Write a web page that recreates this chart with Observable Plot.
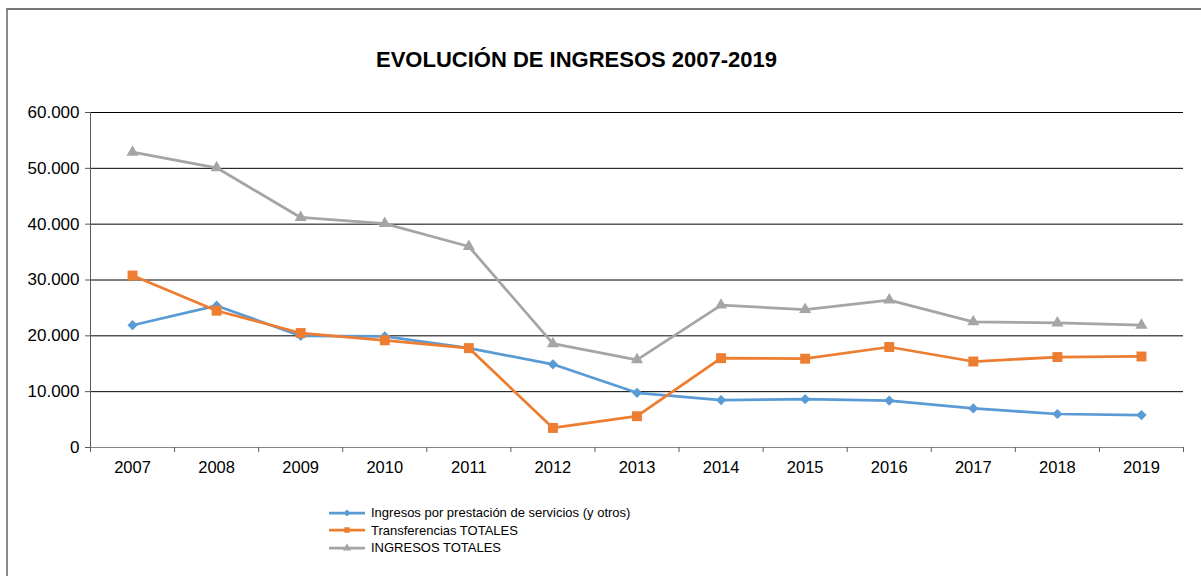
<!DOCTYPE html>
<html><head><meta charset="utf-8">
<script src="https://cdn.jsdelivr.net/npm/d3@7"></script>
<script src="https://cdn.jsdelivr.net/npm/@observablehq/plot@0.6"></script>
<style>
body{margin:0;background:#fff;font-family:"Liberation Sans",Arial,sans-serif;}
#wrap{position:relative;width:1201px;height:576px;overflow:hidden;background:#fff;}
#border{position:absolute;left:6px;top:8px;width:1400px;height:800px;border-top:2px solid #767676;border-left:2px solid #8a8a8a;}
#chart{position:absolute;left:0;top:0;}
#title{position:absolute;left:0;width:1153px;top:47px;text-align:center;font-weight:bold;font-size:22px;line-height:25px;color:#000;}
#legend{position:absolute;left:329px;top:504px;font-size:13px;color:#000;}
#legend .row{display:flex;align-items:center;height:17.5px;}
#legend svg{margin-right:4px;}
</style></head><body>
<div id="wrap"><div id="border"></div><div id="chart"></div><div id="title">EVOLUCIÓN DE INGRESOS 2007-2019</div><div id="legend"></div></div>
<script>
const years = [2007, 2008, 2009, 2010, 2011, 2012, 2013, 2014, 2015, 2016, 2017, 2018, 2019];
const servicios = [21900, 25400, 20000, 19900, 17800, 14900, 9800, 8500, 8650, 8400, 7000, 6000, 5800];
const transferencias = [30800, 24500, 20500, 19200, 17800, 3500, 5600, 16000, 15900, 18000, 15400, 16200, 16300];
const totales = [52900, 50100, 41200, 40100, 36000, 18600, 15700, 25500, 24700, 26400, 22500, 22300, 21900];
const seriesNames = ["Ingresos por prestación de servicios (y otros)", "Transferencias TOTALES", "INGRESOS TOTALES"];
const seriesColors = ["#5B9BD5", "#ED7D31", "#A5A5A5"];
const seriesSymbols = ["diamond2", "square", "triangle"];
const seriesD3Symbols = [d3.symbolDiamond2, d3.symbolSquare, d3.symbolTriangle];
const yTicks = [0, 10000, 20000, 30000, 40000, 50000, 60000];

const seriesValues = [servicios, transferencias, totales];
const rows = [];
seriesNames.forEach((name, s) => {
  years.forEach((yr, i) => rows.push({year: yr, value: seriesValues[s][i], series: name}));
});

const fmt = d => d === 0 ? "0" : d3.format(",")(d).replace(/,/g, ".");
const bounds = years.map(y => y - 0.5).concat([years[years.length - 1] + 0.5]);
const dotR = [4.6, 5.6, 4.5];

const plot = Plot.plot({
  width: 1201, height: 576,
  marginLeft: 90, marginRight: 18, marginTop: 112, marginBottom: 129,
  style: {fontFamily: '"Liberation Sans", Arial, sans-serif', fontSize: "16px", color: "#000", background: "transparent", overflow: "visible"},
  x: {domain: [bounds[0], bounds[bounds.length - 1]]},
  y: {domain: [0, 60000]},
  color: {domain: seriesNames, range: seriesColors},
  symbol: {domain: seriesNames, range: seriesSymbols},
  marks: [
    Plot.ruleY(yTicks.filter(v => v > 0), {stroke: "#000", strokeWidth: 1}),
    Plot.ruleY([0], {stroke: "#868686"}),
    Plot.ruleX([bounds[0]], {stroke: "#5a5a5a"}),
    Plot.axisY({ticks: yTicks, tickSize: 5, tickPadding: 6, tickFormat: fmt, label: null, stroke: "#5a5a5a", fontSize: 17}),
    Plot.axisX({ticks: bounds, tickSize: 5, tickFormat: () => "", label: null, stroke: "#5a5a5a"}),
    Plot.axisX({ticks: years, tickSize: 0, tickPadding: 14, tickFormat: d => String(d), label: null, fontSize: 16.5}),
    Plot.line(rows, {x: "year", y: "value", z: "series", stroke: "series", strokeWidth: 2.75, curve: "linear"}),
    ...seriesNames.map((name, s) => Plot.dot(rows.filter(r => r.series === name), {x: "year", y: "value", symbol: () => seriesSymbols[s], fill: seriesColors[s], r: dotR[s], stroke: "none"}))
  ]
});
document.getElementById("chart").appendChild(plot);

const legend = d3.select("#legend");
seriesNames.forEach((name, i) => {
  const row = legend.append("div").attr("class", "row");
  const svg = row.append("svg").attr("width", 38).attr("height", 10);
  svg.append("line").attr("x1", 0).attr("x2", 36).attr("y1", 5).attr("y2", 5).attr("stroke", seriesColors[i]).attr("stroke-width", 2.75);
  svg.append("path").attr("transform", "translate(18,5)").attr("d", d3.symbol(seriesD3Symbols[i], 30)()).attr("fill", seriesColors[i]);
  row.append("span").text(name);
});
</script>
</body></html>
